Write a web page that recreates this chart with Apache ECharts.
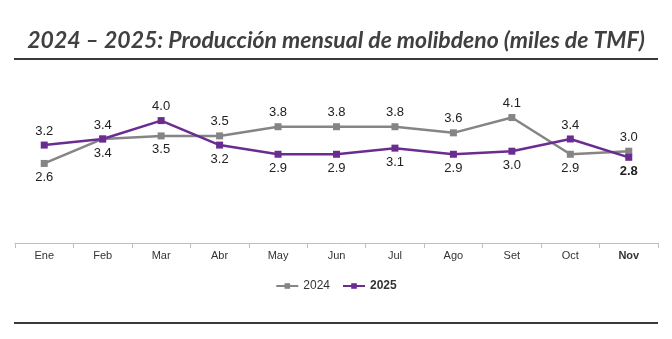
<!DOCTYPE html>
<html>
<head>
<meta charset="utf-8">
<script src="https://cdn.jsdelivr.net/npm/echarts@6/dist/echarts.min.js"></script>
<style>
  html, body { margin: 0; padding: 0; background: #ffffff; }
  #chart { width: 672px; height: 339px; }
</style>
</head>
<body>
<div id="chart"></div>
<script>
// Monthly molybdenum output, thousands of fine metric tons
const months = ['Ene', 'Feb', 'Mar', 'Abr', 'May', 'Jun', 'Jul', 'Ago', 'Set', 'Oct', 'Nov'];
const prod2024 = [2.6, 3.4, 3.5, 3.5, 3.8, 3.8, 3.8, 3.6, 4.1, 2.9, 3.0];
const prod2025 = [3.2, 3.4, 4.0, 3.2, 2.9, 2.9, 3.1, 2.9, 3.0, 3.4, 2.8];

// Where each value label sits relative to its point
const place2024 = ['bottom', 'bottom', 'bottom', 'top', 'top', 'top', 'top', 'top', 'top', 'bottom', 'top'];
const place2025 = ['top', 'top', 'top', 'bottom', 'bottom', 'bottom', 'bottom', 'bottom', 'bottom', 'top', 'bottom'];

const FONT = "'Liberation Sans Narrow', 'Liberation Sans', Arial, sans-serif";
const GREY = '#858585';
const PURPLE = '#6b2c91';
const lastIdx = months.length - 1;

function points(values, place, boldLast) {
  return values.map((v, i) => ({
    value: v,
    label: {
      position: place[i],
      fontWeight: (boldLast && i === lastIdx) ? 'bold' : 'normal'
    }
  }));
}

const chart = echarts.init(document.getElementById('chart'), null, { renderer: 'canvas' });

chart.setOption({
  animation: false,
  title: {
    text: '2024 – 2025: Producción mensual de molibdeno (miles de TMF)',
    left: 'center',
    top: 24,
    textStyle: {
      fontFamily: 'Lato, sans-serif',
      fontStyle: 'italic',
      fontWeight: 'bold',
      fontSize: 23,
      color: '#404040'
    }
  },
  graphic: [
    { type: 'rect', shape: { x: 14, y: 58, width: 644, height: 2 }, style: { fill: '#3a3a3a' } },
    { type: 'rect', shape: { x: 14, y: 322, width: 644, height: 2 }, style: { fill: '#3a3a3a' } }
  ],
  legend: {
    top: 275,
    left: 'center',
    itemWidth: 22,
    itemHeight: 7,
    itemGap: 12,
    textStyle: { fontFamily: FONT, fontSize: 12, color: '#333' },
    data: [
      { name: '2024' },
      { name: '2025', textStyle: { fontWeight: 'bold' } }
    ]
  },
  grid: { left: 15, right: 14, top: 90, bottom: 96 },
  xAxis: {
    type: 'category',
    data: months,
    boundaryGap: true,
    axisLine: { lineStyle: { color: '#bfbfbf', width: 1 } },
    axisTick: { show: true, length: 5, lineStyle: { color: '#bfbfbf' } },
    axisLabel: {
      fontFamily: FONT,
      fontSize: 11,
      color: '#333',
      margin: 7,
      formatter: (v, i) => i === lastIdx ? '{b|' + v + '}' : v,
      rich: { b: { fontFamily: FONT, fontSize: 11, fontWeight: 'bold', color: '#333' } }
    }
  },
  yAxis: {
    type: 'value',
    min: 0,
    max: 5,
    show: false,
    splitLine: { show: false }
  },
  series: [
    {
      name: '2024',
      type: 'line',
      data: points(prod2024, place2024, false),
      symbol: 'rect',
      symbolSize: 7,
      lineStyle: { color: GREY, width: 2.5 },
      itemStyle: { color: GREY },
      label: {
        show: true,
        distance: 4,
        fontFamily: FONT,
        fontSize: 13,
        color: '#222',
        formatter: p => p.value.toFixed(1)
      }
    },
    {
      name: '2025',
      type: 'line',
      data: points(prod2025, place2025, true),
      symbol: 'rect',
      symbolSize: 7,
      lineStyle: { color: PURPLE, width: 2.5 },
      itemStyle: { color: PURPLE },
      z: 3,
      label: {
        show: true,
        distance: 4,
        fontFamily: FONT,
        fontSize: 13,
        color: '#222',
        formatter: p => p.value.toFixed(1)
      }
    }
  ]
});
</script>
</body>
</html>
